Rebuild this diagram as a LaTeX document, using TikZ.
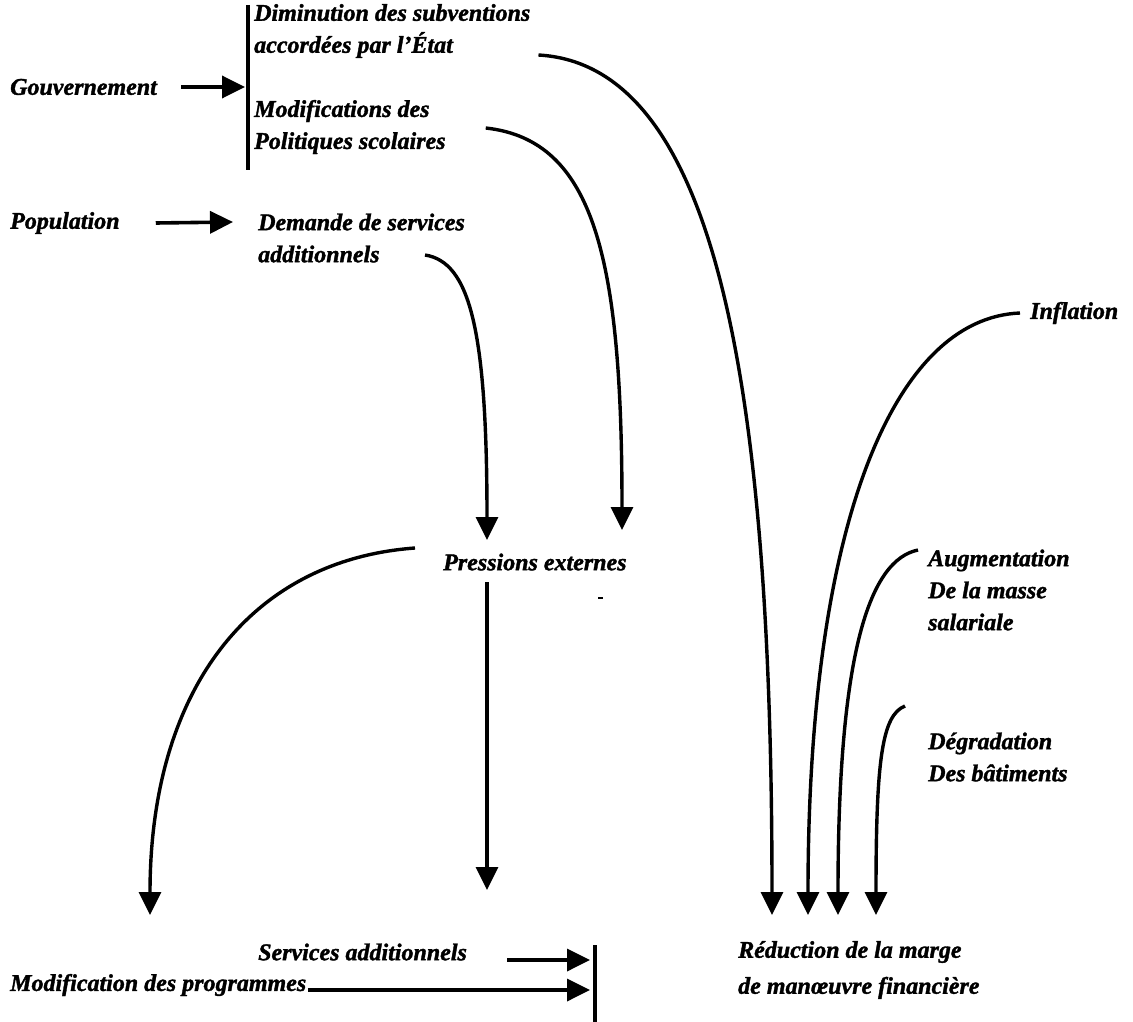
\documentclass[tikz,border=0pt]{standalone}
\usepackage{fontspec}
\setmainfont{Liberation Serif}[BoldItalicFeatures={FakeBold=1.5}]
\usetikzlibrary{arrows.meta, positioning, calc}

\begin{document}
\begin{tikzpicture}[
        x=1pt, y=-1pt,
        txt/.style={anchor=west, inner sep=0pt, align=left, font=\fontsize{24}{32}\selectfont\bfseries\itshape},
        arrowline/.style={-{Triangle[length=23pt, width=22pt]}, line width=3.6pt},
        curveline/.style={-{Triangle[length=23pt, width=22pt]}, line width=3.4pt},
        barline/.style={line width=3.4pt}
    ]
    \useasboundingbox (0,0) rectangle (1133,1022);
    % causes
    \node[txt] (gouv) at (10,87) {Gouvernement};
    \node[txt] (dimin) at (254,31) {Diminution des subventions\\accordées par l’État};
    \node[txt] (modpol) at (254,127) {Modifications des\\Politiques scolaires};
    \node[txt] (popul) at (10,223) {Population};
    \node[txt] (demande) at (258,238) {Demande de services\\additionnels};
    \node[txt] (inflation) at (1030,313) {Inflation};
    \node[txt] (pression) at (443,562) {Pressions externes};
    \node[txt] (masse) at (928,590) {Augmentation\\De la masse\\salariale};
    \node[txt] (degrad) at (928,757) {Dégradation\\Des bâtiments};
    % effects
    \node[txt] (servadd) at (258,952) {Services additionnels};
    \node[txt] (modprog) at (10,985) {Modification des programmes};
    \node[txt] (reduc) at (738,970) {Réduction de la marge\\[4pt]de manœuvre financière};
    % bars and arrow tips
    \coordinate (bartop) at (248,5);
    \coordinate (barbot) at (248,170);
    \coordinate (bar2top) at (595,945);
    \coordinate (bar2bot) at (595,1022);
    \coordinate (gouvtip) at (245,87);
    \coordinate (popultip) at (233,222);
    \coordinate (prestipa) at (487,540);
    \coordinate (prestipb) at (622,530);
    \coordinate (modtip) at (150,915);
    \coordinate (servtip) at (487,890);
    \coordinate (redtipa) at (772,915);
    \coordinate (redtipb) at (808,915);
    \coordinate (redtipc) at (838,915);
    \coordinate (redtipd) at (876,915);
    \coordinate (servend) at (590,960);
    \coordinate (progend) at (590,990);

    \draw[barline] (bartop) -- (barbot);
    \draw[barline] (bar2top) -- (bar2bot);
    \draw[line width=2pt] (598,598) -- (603,598);

    \draw[arrowline] ([shift={(24,0)}]gouv.east) -- (gouvtip);
    \draw[arrowline] ([shift={(36,0)}]popul.east) -- (popultip);
    \draw[curveline] ([shift={(8,24)}]dimin.east) .. controls (715,65) and (772,380) .. (redtipa);
    \draw[curveline] ([shift={(40,1)}]modpol.east) .. controls (595,140) and (622,260) .. (prestipb);
    \draw[curveline] ([shift={(-40,17)}]demande.east) .. controls (470,262) and (487,330) .. (prestipa);
    \draw[curveline] ([shift={(-28,-14)}]pression.west) .. controls (250,560) and (150,690) .. (modtip);
    \draw[curveline] ([shift={(44,20)}]pression.west) -- (servtip);
    \draw[curveline] ([shift={(-10,0)}]inflation.west) .. controls (895,318) and (808,520) .. (redtipb);
    \draw[curveline] ([shift={(-10,-40)}]masse.west) .. controls (870,560) and (838,650) .. (redtipc);
    \draw[curveline] ([shift={(-23,-51)}]degrad.west) .. controls (882,715) and (876,760) .. (redtipd);
    \draw[arrowline] ([shift={(40,8)}]servadd.east) -- (servend);
    \draw[arrowline] ([shift={(2,5)}]modprog.east) -- (progend);
\end{tikzpicture}
\end{document}
